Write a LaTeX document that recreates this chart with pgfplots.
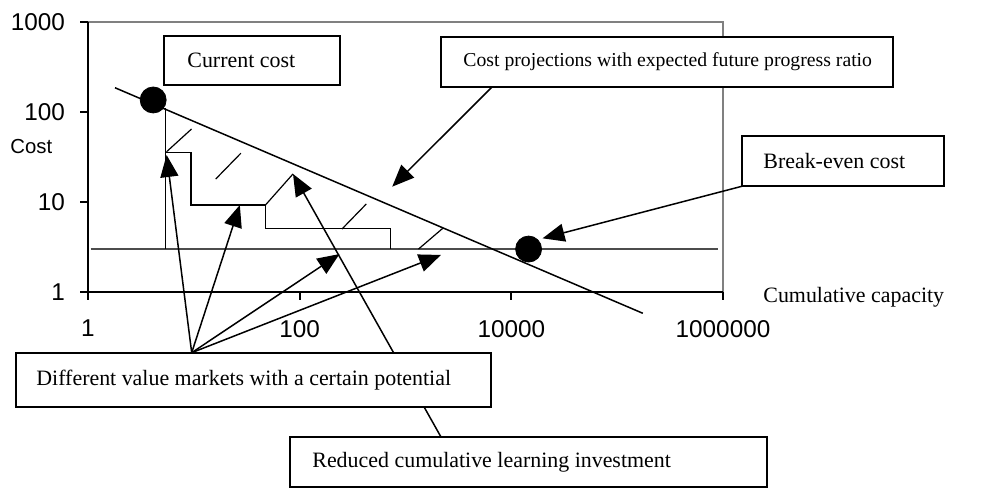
\documentclass[border=0pt]{standalone}
\usepackage{pgfplots}
\pgfplotsset{compat=1.18}
\usepackage{fontspec}
\setmainfont{Liberation Serif}
\newfontfamily\arialfont{Liberation Sans}
\usetikzlibrary{arrows.meta}

\begin{document}
\begin{tikzpicture}[
  >={Triangle[length=11bp,width=9bp]},
  note/.style={font=\fontsize{11}{13}\selectfont, anchor=west, inner sep=0pt},
]
\path[use as bounding box] (0,0) rectangle (494bp,-244bp);

\begin{axis}[
  at={(44bp,-146bp)}, anchor=south west,
  scale only axis, width=317.5bp, height=135bp,
  xmode=log, ymode=log,
  xmin=1, xmax=1000000, ymin=1, ymax=1000,
  xtick={1,100,10000,1000000}, xticklabels={1,100,10000,1000000},
  ytick={1,10,100,1000}, yticklabels={1,10,100,1000},
  minor tick style={draw=none}, minor tick length=0pt,
  tick align=outside, major tick length=4bp, tick pos=left,
  axis line style={draw=none},
  tick style={black, line width=1bp},
  ticklabel style={font=\arialfont\fontsize{12.2}{14}\selectfont},
  xticklabel style={yshift=-6.5bp},
  yticklabel style={xshift=-4bp},
  clip=false,
]
% plot frame: grey top/right, black axes
\draw[gray, line width=1bp] (rel axis cs:0,1) -- (rel axis cs:1,1) -- (rel axis cs:1,0);
\draw[black, line width=1bp] (rel axis cs:0,1) -- (rel axis cs:0,0) -- (rel axis cs:1,0);

% break-even cost level
\addplot[black!70, line width=1bp] coordinates {(1.06,3) (892000,3)};

% cost projection with expected progress ratio
\addplot[black, line width=0.75bp] coordinates {(1.80,186) (174800,0.58)};

% market niches (staircase)
\addplot[black, line width=0.75bp] coordinates {(5.41,111) (5.41,3)};
\addplot[black, line width=0.75bp] coordinates {
  (5.41,35.3) (9.37,35.3) (9.37,9.26) (47.5,9.26) (47.5,5.08) (722,5.08) (722,3)};

% hatching of the learning investment area
\addplot[black, line width=0.6bp] coordinates {(5.53,36.2) (9.51,64.7)};
\addplot[black, line width=0.6bp] coordinates {(16.1,18.0) (27.8,34.8)};
\addplot[black, line width=0.6bp] coordinates {(47.5,9.26) (86.5,20.5)};
\addplot[black, line width=0.6bp] coordinates {(251,5.01) (426,9.5)};
\addplot[black, line width=0.6bp] coordinates {(1327,3) (2249,5.1)};

% current cost and break-even cost
\addplot[only marks, mark=*, mark size=6.5bp, black] coordinates {(4.13,136) (14560,3)};

\coordinate (ta) at (axis cs:5.53,33.3);
\coordinate (tb) at (axis cs:27.2,9.26);
\coordinate (tc) at (axis cs:238,2.64);
\coordinate (td) at (axis cs:2162,2.58);
\coordinate (tr) at (axis cs:86.5,20.5);
\coordinate (tp) at (axis cs:749,14.8);
\coordinate (tq) at (axis cs:19730,3.95);
\end{axis}

\begin{scope}[x=0.5bp, y=-0.5bp]
% arrows
\draw[->, line width=0.75bp] (191.7,352.7) -- (ta);
\draw[->, line width=0.75bp] (191.7,352.7) -- (tb);
\draw[->, line width=0.75bp] (191.7,352.7) -- (tc);
\draw[->, line width=0.75bp] (191.7,352.7) -- (td);
\draw[->, line width=0.75bp] (441,437) -- (tr);
\draw[->, line width=0.75bp] (492,87) -- (tp);
\draw[->, line width=0.75bp] (743,186) -- (tq);

% boxes
\filldraw[fill=white, line width=1bp] (164,36) rectangle (340,85);
\node[note] at (187,60.5) {Current cost};
\filldraw[fill=white, line width=1bp] (441,37) rectangle (893,87);
\node[note, font=\fontsize{9.9}{12}\selectfont] at (463,62) {Cost projections with expected future progress ratio};
\filldraw[fill=white, line width=1bp] (742,136) rectangle (944,186);
\node[note] at (763,161) {Break-even cost};
\filldraw[fill=white, line width=1bp] (16,353) rectangle (491,407);
\node[note] at (36,380) {Different value markets with a certain potential};
\filldraw[fill=white, line width=1bp] (290,437) rectangle (767,487);
\node[note] at (312,462) {Reduced cumulative learning investment};

% axis titles
\node[anchor=west, inner sep=0pt, font=\arialfont\fontsize{10.2}{12}\selectfont] at (10,147) {Cost};
\node[note] at (763,297) {Cumulative capacity};
\end{scope}
\end{tikzpicture}
\end{document}
